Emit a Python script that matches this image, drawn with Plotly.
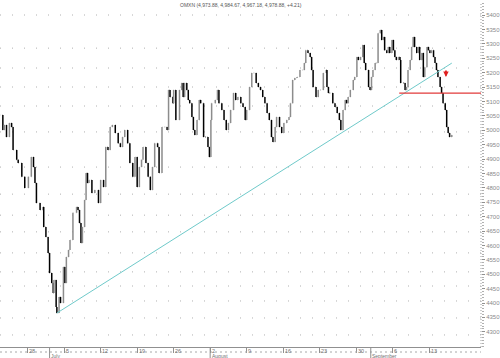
import plotly.graph_objects as go
import pandas as pd

title_text = "OMXN (4,973.88, 4,984.67, 4,967.18, 4,978.88, +4.21)"

# trading-day offsets from Monday 28 June 2004, and prices
bar_t = [-3.8, -3.4, -3.2, -2.9, -2.5, -2.2, -2.0, -1.5, -1.3, -0.8, -0.4, 0.1, 0.5, 0.8, 1.0, 1.2, 1.7, 2.1, 2.2, 2.5,
         2.8, 3.0, 3.3, 3.5, 3.6, 3.9, 4.0, 4.3, 4.5, 4.9, 5.1, 5.3, 5.6, 5.8, 6.2, 6.7, 6.9, 7.1, 7.3, 7.5,
         7.8, 8.0, 8.2, 8.4, 8.8, 9.2, 9.7, 10.0, 10.4, 10.7, 11.0, 11.3, 11.6, 12.0, 12.4, 12.7, 13.0, 13.3, 13.7,
         14.0, 14.4, 14.7, 15.0, 15.3, 15.6, 15.8, 16.2, 16.5, 16.8, 17.1, 17.4, 17.8, 18.0, 18.4, 18.8, 19.1, 19.3,
         19.5, 19.9, 20.0, 20.3, 20.8, 21.1, 21.3, 21.5, 21.8, 22.0, 22.2, 22.5, 22.7, 22.9, 23.2, 23.5, 23.7, 24.1,
         24.4, 24.7, 24.9, 25.1, 25.2, 25.7, 26.0, 26.2, 26.6, 26.9, 27.2, 27.5, 27.8, 28.2, 28.5, 28.8, 29.2,
         29.5, 29.8, 30.0, 30.4, 30.7, 31.0, 31.3, 31.6, 31.9, 32.2, 32.5, 32.8, 33.1, 33.4, 33.6, 33.9, 34.1, 34.5,
         34.8, 35.1, 35.5, 35.8, 36.0, 36.3, 36.6, 36.9, 37.3, 37.7, 37.9, 38.1, 38.4, 38.7, 38.9, 39.1, 39.5, 39.8,
         40.1, 40.5, 40.9, 41.0, 41.2, 41.4, 41.8, 42.1, 42.4, 42.7, 42.9,
         43.2, 43.5, 43.7, 43.9, 44.2, 44.6, 44.8, 45.1, 45.3, 45.6, 45.9, 46.1, 46.3, 46.7, 46.9, 47.1, 47.3, 47.6,
         47.8, 48.0, 48.3, 48.5, 48.7, 48.9, 49.2, 49.4, 49.6, 49.9, 50.1, 50.3, 50.5, 50.8, 51.0, 51.1, 51.5, 51.7,
         51.9, 52.1, 52.4, 52.6, 52.8, 53.0, 53.3, 53.5, 53.7, 54.0, 54.2, 54.4, 54.7, 54.9, 55.1, 55.3, 55.6, 55.8,
         56.0, 56.2, 56.5, 56.7, 56.9, 57.2, 57.4, 57.6, 57.8, 58.1]
bar_close = [5053, 5001, 5018, 4976, 5025, 5011, 4931, 4897, 4886, 4838, 4799, 4838, 4907, 4872, 4817, 4747, 4723, 4733, 4664, 4629,
             4574, 4504, 4469, 4435, 4480, 4386, 4365, 4421, 4400, 4525, 4469, 4560, 4584, 4619, 4713, 4733, 4723, 4678, 4608, 4664,
             4758, 4851, 4817, 4827, 4782, 4792, 4747, 4827, 4803, 4942, 4931, 5011, 5018, 4990, 4955, 4942, 4976, 5001, 4955,
             4886, 4838, 4907, 4803, 4872, 4897, 4942, 4886, 4838, 4792, 4872, 4955, 4942, 4851, 5011, 5011, 5001, 5140,
             5115, 5094, 5140, 5035, 5140, 5164, 5115, 5164, 5140, 5105, 5094, 5046, 5001, 4983, 5035, 5105, 5094, 4976,
             4976, 4942, 4907, 5035, 5094, 5105, 5140, 5094, 5070, 5035, 5001, 5025, 5070, 5129, 5105, 5115, 5094,
             5081, 5035, 5070, 5150, 5199, 5199, 5164, 5150, 5140, 5115, 5094, 5060, 5035, 4976, 4959, 5011, 5046, 5011,
             4990, 5025, 5035, 5046, 5094, 5174, 5181, 5185, 5209, 5209, 5233, 5278, 5268, 5254, 5209, 5150, 5115, 5140,
             5140, 5199, 5209, 5150, 5129, 5129, 5094, 5081, 5060, 5035, 5001,
             5070, 5105, 5094, 5115, 5140, 5174, 5185, 5254, 5244, 5254, 5296, 5233, 5209, 5150, 5140, 5185, 5209, 5233,
             5233, 5337, 5348, 5313, 5324, 5278, 5268, 5289, 5268, 5313, 5278, 5254, 5244, 5254, 5244, 5164, 5164, 5140,
             5150, 5209, 5244, 5289, 5324, 5289, 5268, 5289, 5244, 5268, 5185, 5219, 5289, 5278, 5268, 5278, 5254, 5233,
             5209, 5185, 5150, 5129, 5094, 5070, 5011, 4990, 4976, 4983]

trend_t = [4.0, 58.1]
trend_p = [4365, 5233]
support_t0 = 50.9
support_p = 5129
arrow_t = 57.3
arrow_p = 5185

price_ticks = list(range(4300, 5401, 50))
grid_levels = [5400, 5285, 5216, 5150, 5084, 4994, 4872, 4778, 4705, 4647, 4574, 4508, 4459, 4407, 4348, 4289]

x_range = [-3.79, 62.1]
y_range = [4247.2, 5441.7]

# calendar for the time axis (trading days)
days = list(pd.bdate_range("2004-06-24", "2004-09-17"))
t0 = days.index(pd.Timestamp("2004-06-28"))
week_t = [i - t0 for i, d in enumerate(days) if d.weekday() == 0]
week_lbl = [str(d.day) for d in days if d.weekday() == 0]
month_t = [i - t0 for i in range(1, len(days)) if days[i].month != days[i - 1].month]
month_lbl = [days[i].strftime("%B") for i in range(1, len(days)) if days[i].month != days[i - 1].month]

bar_open = [bar_close[0]] + bar_close[:-1]
bar_high = [max(o, c) for o, c in zip(bar_open, bar_close)]
bar_low = [min(o, c) for o, c in zip(bar_open, bar_close)]

FONT = "Liberation Sans"

fig = go.Figure()
fig.add_trace(go.Ohlc(
    x=bar_t, open=bar_open, high=bar_high, low=bar_low, close=bar_close,
    increasing=dict(line=dict(color="#8c8c8c", width=1.5)),
    decreasing=dict(line=dict(color="#000000", width=1.5)),
    tickwidth=0.3, showlegend=False, hoverinfo="skip"))

fig.add_trace(go.Scatter(x=trend_t, y=trend_p, mode="lines",
                         line=dict(color="#6fcaca", width=1), showlegend=False, hoverinfo="skip"))
fig.add_trace(go.Scatter(x=[support_t0, x_range[1]], y=[support_p, support_p], mode="lines",
                         line=dict(color="#e23a3a", width=1.2), showlegend=False, hoverinfo="skip"))

shapes = []
for g in grid_levels:
    shapes.append(dict(type="line", xref="paper", yref="y", x0=0, x1=1, y0=g, y1=g,
                       line=dict(color="#b0b0b0", width=1, dash="1px,11px"), layer="below"))
# dotted right axis line
shapes.append(dict(type="line", xref="paper", yref="paper", x0=1, x1=1, y0=0, y1=1,
                   line=dict(color="#a0a0a0", width=1, dash="1px,2px")))
# dashed line under the time axis
shapes.append(dict(type="line", xref="paper", yref="paper", x0=0, x1=1, y0=-5 / 344, y1=-5 / 344,
                   line=dict(color="#a8a8a8", width=1, dash="2px,3px")))
for m in month_t:
    shapes.append(dict(type="line", xref="x", yref="paper", x0=m, x1=m, y0=0, y1=-11 / 344,
                       line=dict(color="#909090", width=1)))

annotations = [dict(text=title_text, xref="paper", yref="paper", x=0.5, y=1, yanchor="middle", yshift=-1.5,
                    showarrow=False, font=dict(family=FONT, size=5, color="#555555"))]
for t, lbl in zip(week_t, week_lbl):
    annotations.append(dict(text=lbl, xref="x", yref="paper", x=t, y=0, xanchor="left", yanchor="top",
                            xshift=0.5, yshift=0.5, showarrow=False, borderpad=0,
                            font=dict(family=FONT, size=5.5, color="#707070")))
for t, lbl in zip(month_t, month_lbl):
    annotations.append(dict(text=lbl, xref="x", yref="paper", x=t, y=0, xanchor="left", yanchor="top",
                            xshift=0.5, yshift=-5, showarrow=False, borderpad=0,
                            font=dict(family=FONT, size=5, color="#707070")))
annotations.append(dict(x=arrow_t, y=arrow_p, xref="x", yref="y", ax=0, ay=-8, showarrow=True,
                        arrowhead=2, arrowsize=0.6, arrowwidth=1.8, arrowcolor="#e02020", text=""))

fig.update_layout(
    width=500, height=358,
    margin=dict(l=0, r=19, t=3, b=11),
    paper_bgcolor="white", plot_bgcolor="white",
    shapes=shapes, annotations=annotations,
    xaxis=dict(range=x_range, showgrid=False, zeroline=False, showline=True, linecolor="#909090",
               linewidth=1, ticks="outside", ticklen=5, tickcolor="#909090", tickvals=week_t,
               showticklabels=False, rangeslider=dict(visible=False), fixedrange=True),
    yaxis=dict(range=y_range, side="right", showgrid=False, zeroline=False, showline=False,
               tickvals=price_ticks, ticktext=[str(p) for p in price_ticks], ticks="outside", ticklen=3,
               tickcolor="#909090", tickfont=dict(family=FONT, size=6, color="#8a8a8a"),
               minor=dict(dtick=10, tick0=4300, ticks="outside", ticklen=1.5, tickcolor="#b0b0b0"),
               fixedrange=True),
)

fig.write_html("out.html", config={"displayModeBar": False},
               post_script="document.body.style.margin='0px';document.body.style.overflow='hidden';")
